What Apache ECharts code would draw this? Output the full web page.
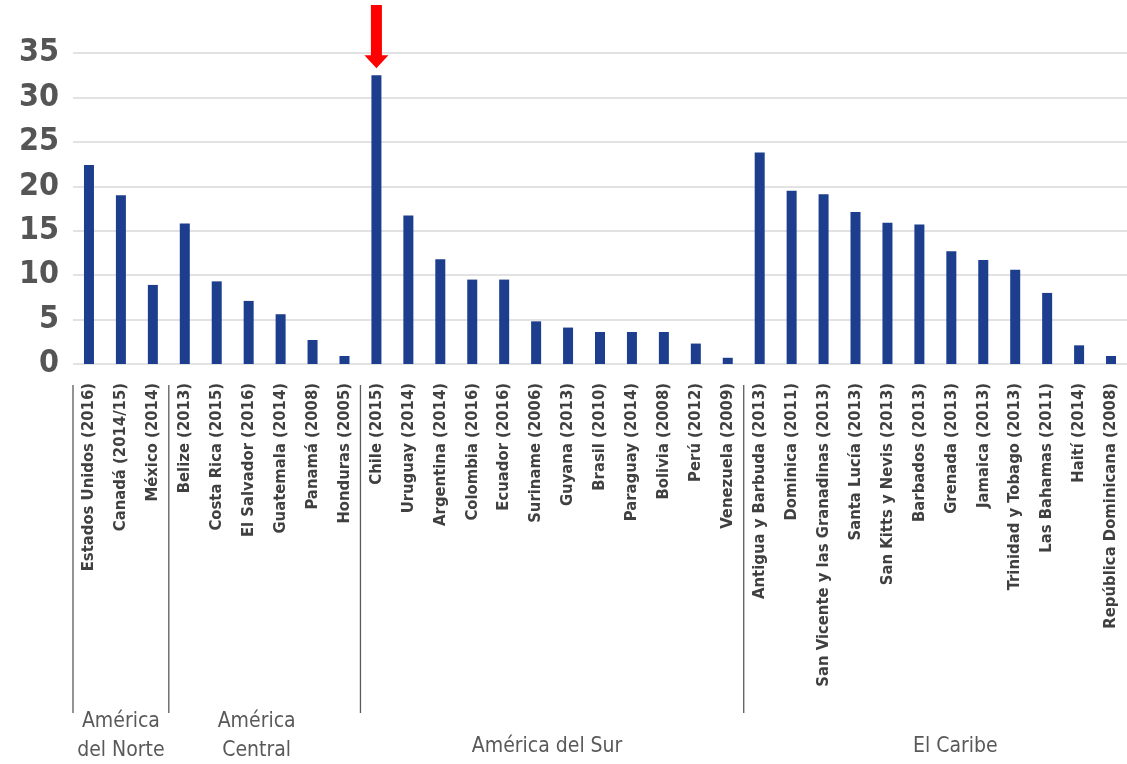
<!DOCTYPE html>
<html>
<head>
<meta charset="utf-8">
<style>
  html, body { margin: 0; padding: 0; background: #ffffff; }
  #chart { width: 1127px; height: 764px; }
</style>
<script src="https://cdn.jsdelivr.net/npm/echarts@6/dist/echarts.min.js"></script>
</head>
<body>
<div id="chart"></div>
<script>
// Countries (survey year), grouped by region
const northAmerica = ['Estados Unidos (2016)', 'Canadá (2014/15)', 'México (2014)'];
const centralAmerica = ['Belize (2013)', 'Costa Rica (2015)', 'El Salvador (2016)', 'Guatemala (2014)', 'Panamá (2008)', 'Honduras (2005)'];
const southAmerica = ['Chile (2015)', 'Uruguay (2014)', 'Argentina (2014)', 'Colombia (2016)', 'Ecuador (2016)', 'Suriname (2006)', 'Guyana (2013)', 'Brasil (2010)', 'Paraguay (2014)', 'Bolivia (2008)', 'Perú (2012)', 'Venezuela (2009)'];
const caribbean = ['Antigua y Barbuda (2013)', 'Dominica (2011)', 'San Vicente y las Granadinas (2013)', 'Santa Lucía (2013)', 'San Kitts y Nevis (2013)', 'Barbados (2013)', 'Grenada (2013)', 'Jamaica (2013)', 'Trinidad y Tobago (2013)', 'Las Bahamas (2011)', 'Haití (2014)', 'República Dominicana (2008)'];

const northValues = [22.4, 19.0, 8.9];
const centralValues = [15.8, 9.3, 7.1, 5.6, 2.7, 0.9];
const southValues = [32.5, 16.7, 11.8, 9.5, 9.5, 4.8, 4.1, 3.6, 3.6, 3.6, 2.3, 0.7];
const caribbeanValues = [23.8, 19.5, 19.1, 17.1, 15.9, 15.7, 12.7, 11.7, 10.6, 8.0, 2.1, 0.9];

const regionNames = ['América\ndel Norte', 'América\nCentral', 'América del Sur', 'El Caribe'];
const yTicks = [0, 5, 10, 15, 20, 25, 30, 35];
const highlighted = 'Chile (2015)';

const regions = [northAmerica, centralAmerica, southAmerica, caribbean];
const categories = [].concat(northAmerica, centralAmerica, southAmerica, caribbean);
const values = [].concat(northValues, centralValues, southValues, caribbeanValues);

const chart = echarts.init(document.getElementById('chart'), null, { renderer: 'canvas' });

const option = {
  animation: false,
  backgroundColor: '#ffffff',
  grid: { left: 73, right: 0, top: 53, bottom: 400, containLabel: false },
  xAxis: {
    type: 'category',
    data: categories,
    axisLine: { show: false },
    axisTick: { show: false },
    axisLabel: {
      interval: 0,
      rotate: 90,
      margin: 19,
      fontFamily: 'DejaVu Sans Condensed, DejaVu Sans, sans-serif',
      fontWeight: 'bold',
      fontSize: 16.5,
      color: '#404040'
    }
  },
  yAxis: {
    type: 'value',
    min: yTicks[0],
    max: yTicks[yTicks.length - 1],
    interval: yTicks[1] - yTicks[0],
    axisLine: { show: false },
    axisTick: { show: false },
    axisLabel: {
      margin: 14,
      fontFamily: 'DejaVu Sans Condensed, DejaVu Sans, sans-serif',
      fontWeight: 'bold',
      fontSize: 32,
      color: '#555555'
    },
    splitLine: { lineStyle: { color: '#d9d9d9', width: 1.5 } }
  },
  series: [{
    type: 'bar',
    data: values,
    barWidth: 10,
    itemStyle: { color: '#1c3e8d' }
  }]
};
chart.setOption(option);

// Region brackets, region names and the pointer arrow are placed from the axis scale
function drawOverlay() {
  const p0 = chart.convertToPixel({ xAxisIndex: 0 }, categories[0]);
  const p1 = chart.convertToPixel({ xAxisIndex: 0 }, categories[1]);
  const step = p1 - p0;
  const elements = [];
  const nudges = [0, -8, -5, 20];
  let start = 0;
  regions.forEach((list, r) => {
    const left = p0 + (start - 0.5) * step;
    const right = p0 + (start + list.length - 0.5) * step;
    elements.push({
      type: 'line',
      shape: { x1: left, y1: 385, x2: left, y2: 713 },
      style: { stroke: '#5a5a5a', lineWidth: 1.3 }
    });
    const twoLines = regionNames[r].indexOf('\n') >= 0;
    elements.push({
      type: 'text',
      x: (left + right) / 2 + nudges[r],
      y: twoLines ? 736 : 747,
      style: {
        text: regionNames[r],
        align: 'center',
        verticalAlign: 'middle',
        fontFamily: 'DejaVu Sans Condensed, DejaVu Sans, sans-serif',
        fontSize: 21,
        lineHeight: 29,
        fill: '#595959'
      }
    });
    start += list.length;
  });

  const idx = categories.indexOf(highlighted);
  const tip = chart.convertToPixel({ xAxisIndex: 0, yAxisIndex: 0 }, [idx, values[idx]]);
  const ax = tip[0];
  const ay = tip[1] - 7;
  elements.push({
    type: 'polygon',
    shape: {
      points: [
        [ax - 5.5, 5], [ax + 5.5, 5], [ax + 5.5, ay - 13],
        [ax + 12, ay - 13], [ax, ay], [ax - 12, ay - 13], [ax - 5.5, ay - 13]
      ]
    },
    style: { fill: '#ff0000' }
  });
  chart.setOption({ graphic: { elements: elements } });
}
drawOverlay();
</script>
</body>
</html>
